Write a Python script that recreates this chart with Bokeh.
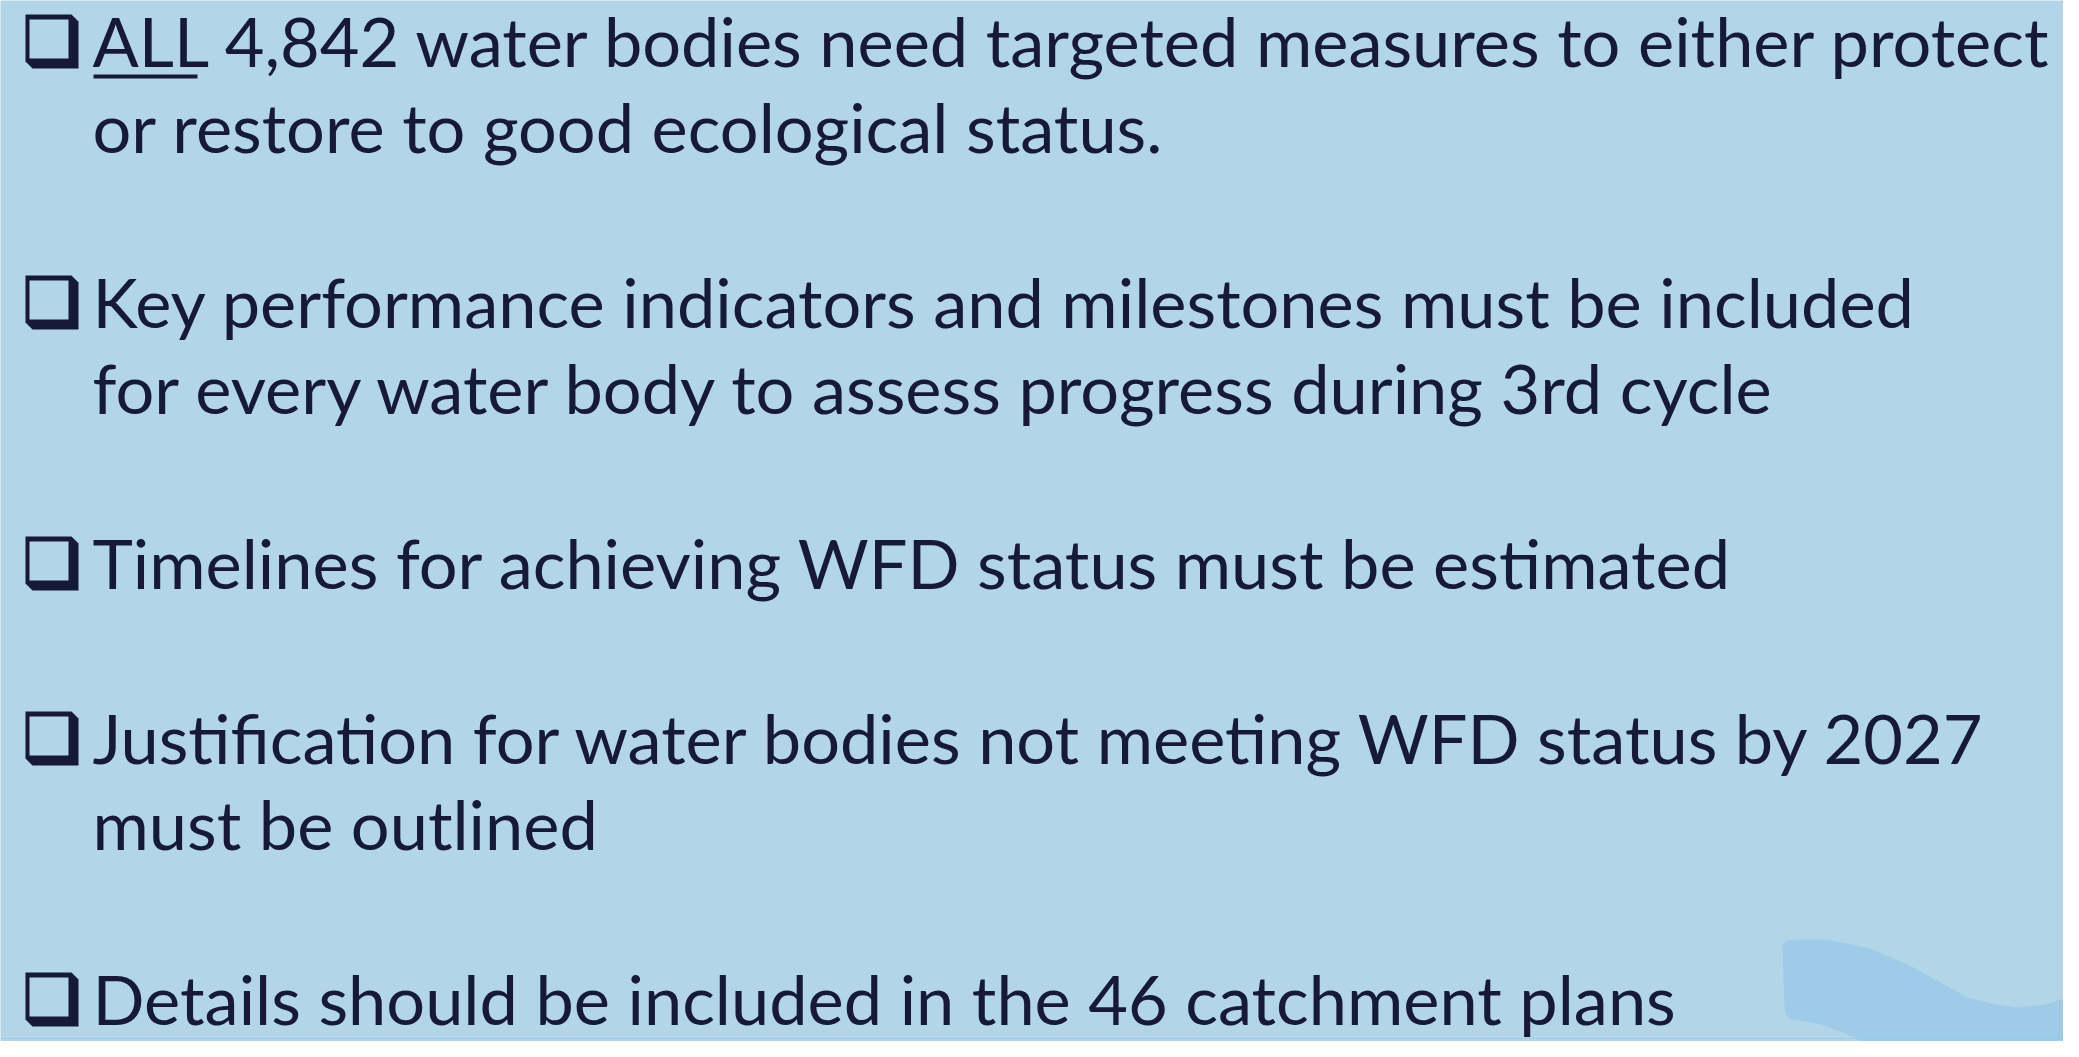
from bokeh.plotting import figure
from bokeh.models import Range1d
from bokeh.core.properties import value
from bokeh.embed import file_html
from bokeh.resources import INLINE

# ---- content ----
bullets = [
    ["ALL 4,842 water bodies need targeted measures to either protect",
     "or restore to good ecological status."],
    ["Key performance indicators and milestones must be included",
     "for every water body to assess progress during 3rd cycle"],
    ["Timelines for achieving WFD status must be estimated"],
    ["Justification for water bodies not meeting WFD status by 2027",
     "must be outlined"],
    ["Details should be included in the 46 catchment plans"],
]
underlined_word = "ALL"

# ---- style ----
BG = "#b2d6e8"
WAVE = "#9dcbe8"
INK = "#161937"
FONT = "Lato"
SIZE = "68.5px"
W, H = 2063, 1041
TEXT_SHIFT = 28   # compensation of renderer's baseline offset

p = figure(width=W, height=H, x_range=Range1d(0, W), y_range=Range1d(H, 0),
           output_backend="svg", toolbar_location=None, min_border=0,
           x_axis_location=None, y_axis_location=None)
p.grid.visible = False
p.outline_line_color = None
p.background_fill_color = BG
p.border_fill_color = BG

# decorative wave, bottom right
wx = [1782, 1786, 1800, 1827, 1870, 1913, 1967, 1995, 2017, 2045, 2079, 2079,
      1890, 1865, 1843, 1820, 1800, 1792, 1786, 1784]
wy = [945, 940, 939, 939, 948, 967, 997, 1004, 1007, 1004, 993, 1057,
      1057, 1043, 1032, 1024, 1020, 1019, 1015, 1008]
p.patch(wx, wy, fill_color=WAVE, line_color=None)

# slide bottom dotted border
p.segment(x0=[0], y0=[1038], x1=[W], y1=[1038], line_color="#8ec5e6",
          line_width=1, line_dash="2 2")

LINE_STEP = 86
PARA_STEP = 175
TEXT_X = 92
y = 68
xs, ys, ts = [], [], []
box_outer_x, box_outer_y, box_inner_x, box_inner_y = [], [], [], []
first_baseline = y
for lines in bullets:
    b = y
    x0, x1, top, bot = 25, 78, b - 54, b
    bev = 7
    box_outer_x.append([x0, x1 - bev, x1, x1, x0 + bev, x0])
    box_outer_y.append([top, top, top + bev, bot, bot, bot - bev])
    box_inner_x.append([x0 + 4, x1 - 10, x1 - 10, x0 + 4])
    box_inner_y.append([top + 5, top + 5, bot - 10, bot - 10])
    for i, t in enumerate(lines):
        xs.append(TEXT_X)
        ys.append(y - TEXT_SHIFT)
        ts.append(t)
        if i < len(lines) - 1:
            y += LINE_STEP
    y += PARA_STEP

p.patches(box_outer_x, box_outer_y, fill_color=INK, line_color=None)
p.patches(box_inner_x, box_inner_y, fill_color=BG, line_color=None)

p.text(x=xs, y=ys, text=ts, text_font=value(FONT), text_font_size=SIZE,
       text_color=INK, text_baseline="alphabetic", text_align="left")

# underline of "ALL"
p.segment(x0=[TEXT_X + 1], y0=[first_baseline + 8], x1=[TEXT_X + 105],
          y1=[first_baseline + 8], line_color=INK, line_width=4)

open("out.html", "w").write(file_html(p, INLINE))
